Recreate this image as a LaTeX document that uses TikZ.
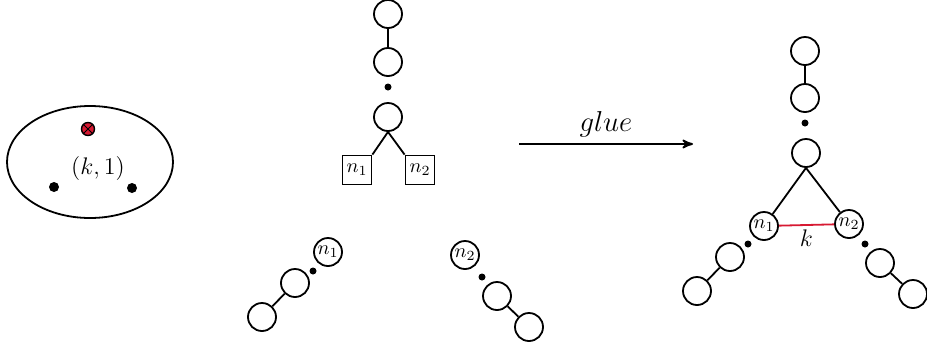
\documentclass[tikz,border=0pt]{standalone}
\usepackage{amsmath}
\usetikzlibrary{arrows,shapes}
\definecolor{crim}{RGB}{215,25,50}

\begin{document}
\begin{tikzpicture}[x=0.5pt,y=-0.5pt,line width=0.9pt,
  vert/.style={circle,draw,minimum size=14pt,inner sep=0pt},
  leaf/.style={rectangle,draw,minimum size=14.5pt,inner sep=0pt},
  dot/.style={circle,fill,inner sep=0pt,minimum size=3.5pt}]
\useasboundingbox (0,0) rectangle (927,349);
% the cluster
\node [ellipse,draw,minimum width=83pt,minimum height=56pt] (blob) at (90,162) {};
\node [circle,draw,fill=crim,line width=0.7pt,minimum size=6.5pt,inner sep=0pt] (mark) at (88,129) {};
\draw [line width=0.5pt] (mark.45) -- (mark.225) (mark.135) -- (mark.315);
\node [dot,minimum size=5pt] (lft) at (54,187) {};
\node [dot,minimum size=5pt] (rgt) at (132,188) {};
\node [font=\large] (klab) at (98,168) {$(k,1)$};
% the tree with two leaves
\node [vert] (t1) at (388,14) {};
\node [vert] (t2) at (388,62) {};
\node [dot] (td) at (388,87) {};
\node [vert] (t3) at (388,117) {};
\node [leaf] (l1) at (357,170) {$n_1$};
\node [leaf] (l2) at (420,170) {$n_2$};
\draw (t1) -- (t2);
\draw (t3.south) -- (l1.north east);
\draw (t3.south) -- (l2.north west);
% the two chains
\node [vert] (p1) at (328,252) {$n_1$};
\node [dot] (pd) at (313,271) {};
\node [vert] (p2) at (295,283) {};
\node [vert] (p3) at (262,317) {};
\draw (p2) -- (p3);
\node [vert] (q1) at (465,255) {$n_2$};
\node [dot] (qd) at (482,277) {};
\node [vert] (q2) at (497,296) {};
\node [vert] (q3) at (529,327) {};
\draw (q2) -- (q3);
% arrow
\coordinate (from) at (519,144);
\coordinate (to) at (693,144);
\draw [->,>=stealth'] (from) -- node[above,font=\Large,inner sep=3pt] {$glue$} (to);
% the glued tree
\node [vert] (r1) at (805,51) {};
\node [vert] (r2) at (805,98) {};
\node [dot] (rd) at (805,123) {};
\node [vert] (r3) at (806,153) {};
\node [vert] (s1) at (764,226) {$n_1$};
\node [vert] (s2) at (849,224) {$n_2$};
\draw (r1) -- (r2);
\draw (r3.south) -- (s1);
\draw (r3.south) -- (s2);
\draw [crim] (s1) -- node[below,black,font=\large,inner sep=2pt] {$k$} (s2);
\node [dot] (sd) at (748,244) {};
\node [vert] (s3) at (730,257) {};
\node [vert] (s4) at (697,291) {};
\draw (s3) -- (s4);
\node [dot] (ud) at (865,244) {};
\node [vert] (u3) at (880,263) {};
\node [vert] (u4) at (913,294) {};
\draw (u3) -- (u4);
\end{tikzpicture}
\end{document}
